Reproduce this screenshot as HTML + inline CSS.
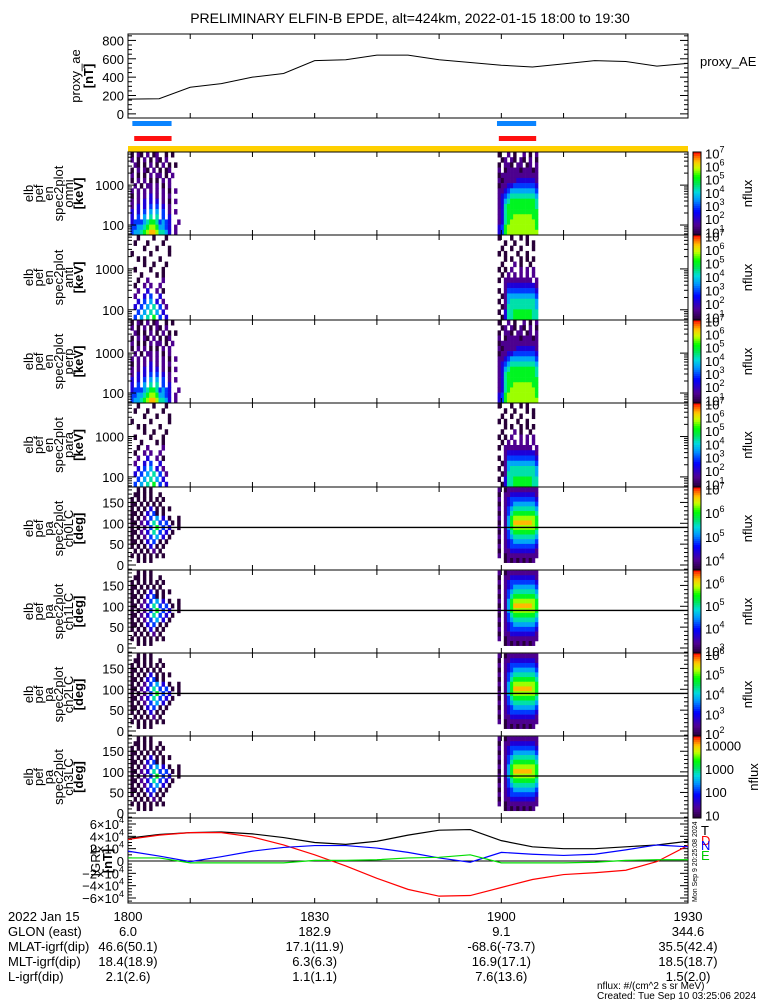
<!DOCTYPE html>
<html><head><meta charset="utf-8"><style>
body{margin:0;background:#fff}
svg{display:block;font-family:"Liberation Sans",sans-serif}
text{fill:#000}
</style></head><body>
<svg id="c" width="775" height="1000" viewBox="0 0 775 1000"></svg>
<script>
// ---- data ----
const aeTimes=[0,5,10,15,20,25,30,35,40,45,50,55,60,65,70,75,80,85,90];
const aeValues=[160,165,290,330,400,440,580,590,640,640,590,560,530,510,545,580,570,520,550];
const igrfTimes=[0,5,10,15,20,25,30,35,40,45,50,55,60,65,70,75,80,85,90];
const igrfT=[3.7,4.3,4.6,4.7,4.4,3.8,3.0,2.7,3.2,4.2,5.0,5.1,3.3,2.3,2.0,2.0,2.3,2.6,3.2];
const igrfD=[3.5,4.2,4.6,4.6,3.9,2.6,1.0,-0.8,-2.8,-4.6,-5.7,-5.6,-4.3,-3.0,-2.2,-1.9,-1.5,-0.1,2.5];
const igrfN=[1.6,0.8,-0.1,0.7,1.6,2.2,2.5,2.5,2.1,1.4,0.5,-0.2,1.4,1.1,0.9,1.1,1.8,2.6,2.3];
const igrfE=[0.5,0.5,-0.3,-0.3,-0.3,-0.3,0.1,0.1,0.2,0.5,0.6,1.0,-0.3,-0.3,-0.3,-0.2,0.1,0.2,0.2];
const aeTicks=[0,200,400,600,800];
const igrfTicks=[6,4,2,0,-2,-4,-6];
const paTicks=[0,50,100,150];
const enTicks=[100,1000];
const passStart=[0.4,59.4];
const passBlue=[[0.7,7.0],[59.3,65.6]];
const passRed=[[1.0,7.0],[59.6,65.6]];
const enP1A=["0.10.1.01..0.0..","1.0.1.0.10.1....",".10.0.1.0.1.0.0.","0.1.10.1.0.01...","1.0.0.1.11.0.1..","0.1.1.0.0.1.1...",".1.0.11.1.0.1...","1.1.1.1.1.1.0.1.","0.1.1.2.1.1.1...","1.1.2.2.2.1.0.1.","1.2.2.3.3.2.1...","2.2.3.4.4.3.1.1.","2.3.4.5.5.3.2...","2333456653432..1","3344567764432.1.","3445678875542.1."];
const enP2A=["0..1.0..1.0.1",".01.10.10.1.0","0.110.11.01.1","1.01111011101","0111111111111","1011112222221","0112233333332","1123444444443","1234555555554","1245666666665","1256666666665","1256666666666","1256677777766","1256777777776","2367777777776","2367777777777"];
const enP1B=["..0....0...0....",".0...0....0.....","....0...0...0...","0.....0.....0...","..0.0....0......","....0..0...0....",".0....0...0.....","...0....0.0.....","..0..1....1.....",".0..1.1..1......","..1..2..1.0.....",".1..2.3..2......","..2.3.4.2.1.....",".2.3.4.5.3.1....","..3.4.5.4.2.....",".3.4.5.6.3.2...."];
const enP2B=["0...0..0.0...","..0..0...0.0.",".0..0..0...0.","0.0...0..0...","..0.0..0.0.0.",".0...1.0..0..","0.0.1..1.1.1.",".0.1.1.1.1.1.","0.111111111.1","..12222222221","0.13333333332",".014444444443","0.14555555554",".015555555554","0.25566666655",".025566666655"];
const paP1=["..0.0.0.........",".00.0.0..0......","0.0.0.0.0.0.....","00.0.0.0.0......","0.0.0.2.0.0.0...","00.0.2.30.0.....","0.0.1.3.4.2.0..0","00.1.2.5.3.3.0.0","0.0.1.3.6.3.2..0","00.1.2.5.3.2.0..","0.0.1.3.4.2.0...","00.0.2.3.0.0....","0.0.0.2.0.0.....",".0.0.0.1.0......","0.0.0.0.0.0.....","..0.0.0........."];
const paP2=["1.01111111111","0.11222222221","1.12333333332","0.12344444443","1.13455555554","0.13566666665","1.14677777776","0.14688888876","1.14677777776","0.13566666665","1.13455555554","0.12344444443","1.12333333332","0.11222222221","1.01111111111","..0101010101."];
const cbLo=[0.8,0.8,0.8,0.8,3.6,2.9,1.9,0.9];
const cbHi=[7.1,7.1,7.1,7.1,7.1,6.6,6.1,4.4];
const cbTicks=[[1,2,3,4,5,6,7],[1,2,3,4,5,6,7],[1,2,3,4,5,6,7],[1,2,3,4,5,6,7],[4,5,6,7],[3,4,5,6],[2,3,4,5,6],[1,2,3,4]];
const panelKind=["omni","anti","perp","para","ch0LC","ch1LC","ch2LC","ch3LC"];
const tickTimes=[0,30,60,90];
const tickLabels=["1800","1830","1900","1930"];
const rowNames=["2022 Jan 15","GLON (east)","MLAT-igrf(dip)","MLT-igrf(dip)","L-igrf(dip)"];
const rowVals=[["6.0","182.9","9.1","344.6"],["46.6(50.1)","17.1(11.9)","-68.6(-73.7)","35.5(42.4)"],["18.4(18.9)","6.3(6.3)","16.9(17.1)","18.5(18.7)"],["2.1(2.6)","1.1(1.1)","7.6(13.6)","1.5(2.0)"]];

// ---- helpers ----
const S=document.getElementById('c');const NS='http://www.w3.org/2000/svg';
function mk(tag,a,parent){const e=document.createElementNS(NS,tag);for(const k in a)e.setAttribute(k,a[k]);(parent||S).appendChild(e);return e;}
function tx(x,y,s,a){const e=mk('text',Object.assign({x:x,y:y,'font-size':13},a||{}));e.textContent=s;return e;}
const X0=128,X1=688;
const xs=t=>X0+t/90*(X1-X0);
const tops=[152,235,320,403,487,570,653,736,818];
const stops=[[0,[40,0,56]],[0.12,[80,0,150]],[0.28,[0,0,255]],[0.42,[0,150,255]],[0.52,[0,220,220]],[0.62,[0,230,80]],[0.7,[0,255,0]],[0.8,[200,255,0]],[0.88,[255,200,0]],[0.95,[255,90,0]],[1,[255,0,0]]];
function cmap(f){f=Math.max(0,Math.min(1,f));for(let i=1;i<stops.length;i++){if(f<=stops[i][0]){const a=stops[i-1],b=stops[i];const u=(f-a[0])/(b[0]-a[0]);return 'rgb('+a[1].map((v,j)=>Math.round(v+(b[1][j]-v)*u)).join(',')+')';}}return 'red';}

// title
let e=tx(410,23,'PRELIMINARY ELFIN-B EPDE, alt=424km, 2022-01-15 18:00 to 19:30',{'text-anchor':'middle','font-size':14});



function xticks(top,bot){for(let t=0;t<=90;t+=10){mk('line',{x1:xs(t),x2:xs(t),y1:bot,y2:bot-5,stroke:'#000'});mk('line',{x1:xs(t),x2:xs(t),y1:top,y2:top+5,stroke:'#000'});}}

// ---- proxy AE panel ----
const aT=34,aB=118,aLo=-45,aHi=870;
const ya=v=>aB-(v-aLo)/(aHi-aLo)*(aB-aT);
e=mk('rect',{x:X0,y:aT,width:X1-X0,height:aB-aT,fill:'none',stroke:'#000'});


xticks(aT,aB);
for(let v=0;v<=850;v+=50){const L=v%200==0?8:4;mk('line',{x1:X0,x2:X0+L,y1:ya(v),y2:ya(v),stroke:'#000'});mk('line',{x1:X1,x2:X1-L,y1:ya(v),y2:ya(v),stroke:'#000'});}
aeTicks.forEach(v=>{e=tx(124,ya(v)+5,String(v),{'text-anchor':'end'});

});
e=mk('path',{d:aeTimes.map((t,i)=>(i?'L':'M')+xs(t)+','+ya(aeValues[i])).join(''),fill:'none',stroke:'#000'});


e=tx(0,0,'proxy_ae',{transform:'translate(80,76) rotate(-90)','text-anchor':'middle'});


e=tx(0,0,'[nT]',{transform:'translate(93,76) rotate(-90)','text-anchor':'middle','font-weight':'bold'});


e=tx(700,66,'proxy_AE');



// pass bars
passBlue.forEach(p=>{e=mk('rect',{x:xs(p[0]),y:121,width:xs(p[1])-xs(p[0]),height:5,fill:'#0a84ff'});

});
passRed.forEach(p=>{e=mk('rect',{x:xs(p[0]),y:136,width:xs(p[1])-xs(p[0]),height:5,fill:'#ff1010'});

});
e=mk('rect',{x:X0,y:146,width:X1-X0,height:6,fill:'#ffd000'});



// ---- spectrogram panels ----
const eLo=1.75,eHi=3.83;
for(let p=0;p<8;p++){
  const top=tops[p],bot=tops[p+1],h=bot-top,isEn=p<4;
  const ye=lg=>bot-(lg-eLo)/(eHi-eLo)*h;
  const yp=pa=>bot-(pa+12)/199*h;
  const mats=isEn?((p==0||p==2)?[enP1A,enP2A]:[enP1B,enP2B]):[paP1,paP2];
  mats.forEach((m,pi)=>{
    const nrow=m.length;
    m.forEach((row,ri)=>{
      let y1,y2;
      if(isEn){y1=ye(eHi-(ri)*(eHi-eLo)/nrow);y2=ye(eHi-(ri+1)*(eHi-eLo)/nrow);}
      else{y1=yp(180-ri*11.25+5.6);y2=yp(180-(ri+1)*11.25+5.6);}
      y1=Math.max(y1,top);y2=Math.min(y2,bot);
      for(let c=0;c<row.length;c++){const ch=row[c];if(ch=='.')continue;
        const d=+ch;const x=xs(passStart[pi]+c*0.5);
        const r=mk('rect',{x:x,y:y1,width:xs(0.5)-X0+0.3,height:y2-y1+0.3,fill:cmap(d/9)});
        
        }
    });
  });
  e=mk('rect',{x:X0,y:top,width:X1-X0,height:h,fill:'none',stroke:'#000'});
  
  
  xticks(top,bot);
  if(isEn){
    for(let dec=10;dec<=1000;dec*=10)for(let k=1;k<10;k++){const v=dec*k,lg=Math.log10(v);if(lg<eLo||lg>eHi)continue;const L=k==1?8:4;
      mk('line',{x1:X0,x2:X0+L,y1:ye(lg),y2:ye(lg),stroke:'#000'});mk('line',{x1:X1,x2:X1-L,y1:ye(lg),y2:ye(lg),stroke:'#000'});}
    enTicks.forEach(v=>{e=tx(124,ye(Math.log10(v))+5,String(v),{'text-anchor':'end'});
    
    });
  }else{
    for(let v=-10;v<=185;v+=10){const L=v%50==0?8:4;mk('line',{x1:X0,x2:X0+L,y1:yp(v),y2:yp(v),stroke:'#000'});mk('line',{x1:X1,x2:X1-L,y1:yp(v),y2:yp(v),stroke:'#000'});}
    paTicks.forEach(v=>{e=tx(124,yp(v)+5,String(v),{'text-anchor':'end'});
    
    });
    e=mk('line',{x1:X0,x2:X1,y1:yp(90),y2:yp(90),stroke:'#000','stroke-width':1.3});
    
    
  }
  const labs=isEn?['elb','pef','en','spec2plot',panelKind[p],'[keV]']:['elb','pef','pa','spec2plot',panelKind[p],'[deg]'];
  labs.forEach((s,i)=>{e=tx(0,0,s,{transform:'translate('+(33+i*10)+','+(top+h/2)+') rotate(-90)','text-anchor':'middle','font-weight':i==5?'bold':'normal'});
  
  });
  // colorbar
  const lo=cbLo[p],hi=cbHi[p],n=40;
  for(let k=0;k<n;k++){const r=mk('rect',{x:693,y:top+k*h/n,width:8,height:h/n+0.5,fill:cmap(1-(k+0.5)/n)});
    
    }
  e=mk('rect',{x:693,y:top,width:8,height:h,fill:'none',stroke:'#000'});
  
  
  cbTicks[p].forEach(k=>{const y=bot-(k-lo)/(hi-lo)*h+5;
    if(p==7){e=tx(705,y,String(Math.pow(10,k)));}
    else{e=tx(705,y,'10');const s=mk('tspan',{dy:-6,'font-size':9},e);s.textContent=String(k);}
    
    });
  e=tx(0,0,'nflux',{transform:'translate('+(p==7?758:752)+','+(top+h/2)+') rotate(-90)','text-anchor':'middle'});
  
  
}

// ---- IGRF panel ----
const gT=818,gB=903,gZ=861,gS=37/6;
const yg=v=>gZ-v*gS;
e=mk('rect',{x:X0,y:gT,width:X1-X0,height:gB-gT,fill:'none',stroke:'#000'});


xticks(gT,gB);
for(let v=-6.5;v<=6.5;v+=0.5){const L=Number.isInteger(v/2)?8:4;mk('line',{x1:X0,x2:X0+L,y1:yg(v),y2:yg(v),stroke:'#000'});mk('line',{x1:X1,x2:X1-L,y1:yg(v),y2:yg(v),stroke:'#000'});}
e=mk('line',{x1:X0,x2:X1,y1:gZ,y2:gZ,stroke:'#000'});


igrfTicks.forEach(v=>{let el;
  if(v==0)el=tx(124,yg(v)+5,'0',{'text-anchor':'end'});
  else{el=tx(124,yg(v)+5,(v<0?'\u2212':'')+Math.abs(v)+'\u00d710',{'text-anchor':'end'});const s=mk('tspan',{dy:-6,'font-size':9},el);s.textContent='4';}
  
  });
[[igrfT,'#000','igrf-total-line'],[igrfD,'#f00','igrf-d-line'],[igrfN,'#00f','igrf-n-line'],[igrfE,'#0d0','igrf-e-line']].forEach(s=>{
  e=mk('path',{d:igrfTimes.map((t,i)=>(i?'L':'M')+xs(t)+','+yg(s[0][i])).join(''),fill:'none',stroke:s[1],'stroke-width':1.2});
  
  });
e=tx(0,0,'IGRF',{transform:'translate(100,861) rotate(-90)','text-anchor':'middle'});


e=tx(0,0,'[nT]',{transform:'translate(112,861) rotate(-90)','text-anchor':'middle','font-weight':'bold'});


[['T','#000',835],['D','#f00',845],['N','#00f',850],['E','#0c0',860]].forEach(l=>{e=tx(701,l[2],l[0],{fill:l[1],style:'fill:'+l[1]});
  
  });
e=tx(0,0,'Mon Sep  9 20:25:08 2024',{transform:'translate(697,902) rotate(-90)','font-size':7});



// ---- bottom annotation rows ----
const rowY=[921,936,951,966,981];
rowNames.forEach((s,i)=>{e=tx(8,rowY[i],s);
  
  });
tickTimes.forEach((t,j)=>{e=tx(xs(t),rowY[0],tickLabels[j],{'text-anchor':'middle'});
  
  
  rowVals.forEach((r,i)=>{e=tx(xs(t),rowY[i+1],r[j],{'text-anchor':'middle'});
    
    });});
e=tx(597,989,'nflux: #/(cm^2 s sr MeV)',{'font-size':10});


e=tx(597,999,'Created: Tue Sep 10 03:25:06 2024',{'font-size':10});


</script>
</body></html>
